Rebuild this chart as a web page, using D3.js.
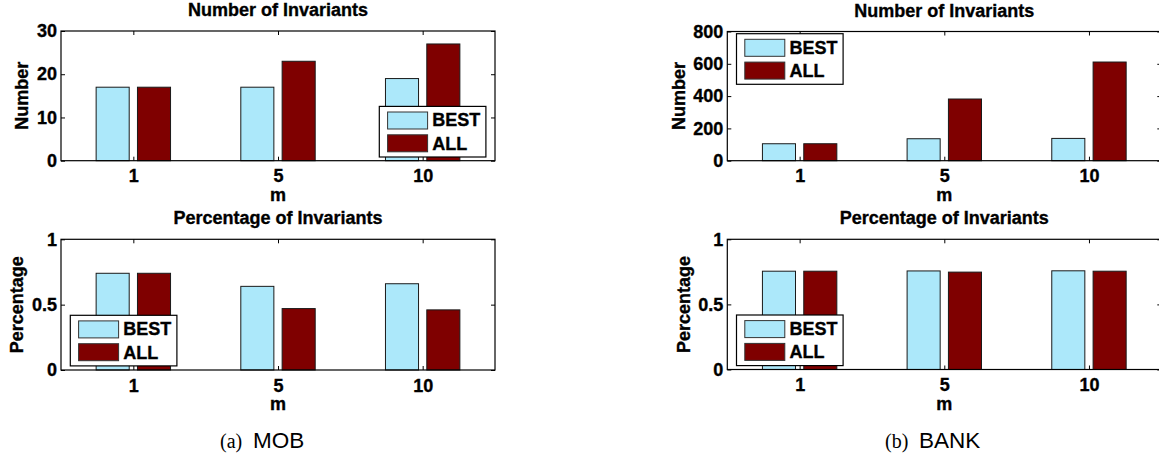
<!DOCTYPE html>
<html>
<head>
<meta charset="utf-8">
<script src="https://cdn.jsdelivr.net/npm/d3@7"></script>
<style>
  html, body { margin: 0; padding: 0; background: #fff; }
  svg { display: block; }
  .lbl { font-family: "Liberation Sans", Arial, Helvetica, sans-serif; font-weight: bold; font-size: 18px; fill: #000; stroke: #000; stroke-width: 0.35px; }
</style>
</head>
<body>
<svg id="chart" width="1159" height="459"></svg>
<script>
// ---------------- DATA ----------------
const categories = ["1", "5", "10"];
const seriesNames = ["BEST", "ALL"];

const mobNumberBest = [17, 17, 19];
const mobNumberAll  = [17, 23, 27];
const mobPctBest    = [0.74, 0.64, 0.66];
const mobPctAll     = [0.74, 0.47, 0.46];

const bankNumberBest = [105, 136, 138];
const bankNumberAll  = [105, 382, 611];
const bankPctBest    = [0.755, 0.757, 0.758];
const bankPctAll     = [0.755, 0.748, 0.755];

const mobNumberTicks  = [0, 10, 20, 30];
const bankNumberTicks = [0, 200, 400, 600, 800];
const pctTicks        = [0, 0.5, 1];
const pctTickLabels   = ["0", "0.5", "1"];

const titleNumber = "Number of Invariants";
const titlePct = "Percentage of Invariants";
const yLabelNumber = "Number";
const yLabelPct = "Percentage";
const xLabel = "m";
const captionA = ["(a)", "MOB"];
const captionB = ["(b)", "BANK"];

// ---------------- STYLE ----------------
const colors = ["#ace8fa", "#7f0000"];
const fontSans = '"Liberation Sans", Arial, Helvetica, sans-serif';
const fontSerif = '"Liberation Serif", "Times New Roman", serif';

const svg = d3.select("#chart");
svg.append("rect").attr("width", 1159).attr("height", 459).attr("fill", "#fff");

function panel(opts) {
  const { x0, x1, y0, y1, ymax, ticks, tickLabels, best, all, title, ylabel, legend } = opts;
  const g = svg.append("g");
  const x = d3.scaleLinear().domain([0.5, categories.length + 0.5]).range([x0, x1]);
  const y = d3.scaleLinear().domain([0, ymax]).range([y1, y0]);

  // MATLAB grouped bar geometry (2 series)
  const nS = 2;
  const groupW = Math.min(0.8, nS / (nS + 1.5));
  const slot = groupW / nS;
  const barW = slot * 0.8;
  const series = [best, all];

  series.forEach((vals, si) => {
    const off = -groupW / 2 + slot * (si + 0.5);
    g.selectAll(null).data(vals).enter().append("rect")
      .attr("x", (d, i) => x(i + 1 + off - barW / 2))
      .attr("width", (d, i) => x(i + 1 + off + barW / 2) - x(i + 1 + off - barW / 2))
      .attr("y", d => y(d))
      .attr("height", d => y(0) - y(d))
      .attr("fill", colors[si])
      .attr("stroke", "#1a1a1a")
      .attr("stroke-width", 1);
  });

  const xb = d3.axisBottom(x).tickValues(categories.map((c, i) => i + 1))
    .tickFormat((d) => categories[d - 1]).tickSizeInner(-4).tickSizeOuter(0).tickPadding(9);
  const xt = d3.axisTop(x).tickValues(categories.map((c, i) => i + 1))
    .tickFormat("").tickSizeInner(-4).tickSizeOuter(0);
  const yl = d3.axisLeft(y).tickValues(ticks).tickFormat((d, i) => tickLabels[i])
    .tickSizeInner(-4).tickSizeOuter(0).tickPadding(4);
  const yr = d3.axisRight(y).tickValues(ticks).tickFormat("")
    .tickSizeInner(-4).tickSizeOuter(0);

  g.append("g").attr("transform", `translate(0,${y1})`).call(xb);
  g.append("g").attr("transform", `translate(0,${y0})`).call(xt);
  const gyl = g.append("g").attr("transform", `translate(${x0},0)`).call(yl);
  g.append("g").attr("transform", `translate(${x1},0)`).call(yr);
  g.selectAll(".domain").remove();
  g.selectAll(".tick line").attr("stroke", "#000").attr("stroke-width", 1);
  g.selectAll(".tick text").attr("class", "lbl").attr("font-family", null).attr("font-size", null)
    .style("font-family", fontSans).style("font-weight", "bold").style("font-size", "18px").attr("fill", "#000");

  g.append("rect").attr("x", x0).attr("y", y0).attr("width", x1 - x0).attr("height", y1 - y0)
    .attr("fill", "none").attr("stroke", "#000").attr("stroke-width", 1.2);

  g.append("text").attr("class", "lbl").attr("x", (x0 + x1) / 2).attr("y", y0 - 15)
    .attr("text-anchor", "middle").text(title);
  g.append("text").attr("class", "lbl").attr("x", (x0 + x1) / 2).attr("y", y1 + 40)
    .attr("text-anchor", "middle").text(xLabel);
  let minX = Infinity;
  gyl.selectAll(".tick text").each(function () {
    const b = this.getBBox();
    minX = Math.min(minX, x0 + b.x);
  });
  g.append("text").attr("class", "lbl")
    .attr("transform", `translate(${minX - 8.5},${(y0 + y1) / 2}) rotate(-90)`)
    .attr("text-anchor", "middle").text(ylabel);

  const lg = g.append("g").attr("transform", `translate(${legend[0]},${legend[1]})`);
  lg.append("rect").attr("width", 106.6).attr("height", 50.6)
    .attr("fill", "#fff").attr("stroke", "#000").attr("stroke-width", 1.2);
  seriesNames.forEach((name, si) => {
    lg.append("rect").attr("x", 8.3).attr("y", 5.6 + si * 22.8).attr("width", 40).attr("height", 17)
      .attr("fill", colors[si]).attr("stroke", "#333").attr("stroke-width", 1);
    lg.append("text").attr("class", "lbl").attr("x", 53).attr("y", 20 + si * 23.3).text(name);
  });
}

panel({ x0: 61, x1: 495, y0: 31, y1: 160.7, ymax: 30, ticks: mobNumberTicks,
  tickLabels: mobNumberTicks.map(String), best: mobNumberBest, all: mobNumberAll,
  title: titleNumber, ylabel: yLabelNumber, legend: [379.3, 106.4] });
panel({ x0: 61, x1: 495, y0: 239.3, y1: 370, ymax: 1, ticks: pctTicks,
  tickLabels: pctTickLabels, best: mobPctBest, all: mobPctAll,
  title: titlePct, ylabel: yLabelPct, legend: [70.3, 315.3] });
panel({ x0: 727.3, x1: 1161.3, y0: 31.5, y1: 160.7, ymax: 800, ticks: bankNumberTicks,
  tickLabels: bankNumberTicks.map(String), best: bankNumberBest, all: bankNumberAll,
  title: titleNumber, ylabel: yLabelNumber, legend: [736.5, 33.7] });
panel({ x0: 727.3, x1: 1161.3, y0: 239.3, y1: 369.5, ymax: 1, ticks: pctTicks,
  tickLabels: pctTickLabels, best: bankPctBest, all: bankPctAll,
  title: titlePct, ylabel: yLabelPct, legend: [736.5, 315] });

function caption(xs, parts) {
  svg.append("text").attr("x", xs[0]).attr("y", 448)
    .style("font-family", fontSerif).style("font-size", "20px").text(parts[0]);
  svg.append("text").attr("x", xs[1]).attr("y", 448)
    .style("font-family", fontSans).style("font-size", "22.5px").text(parts[1]);
}
caption([220, 253], captionA);
caption([885, 919], captionB);
</script>
</body>
</html>
